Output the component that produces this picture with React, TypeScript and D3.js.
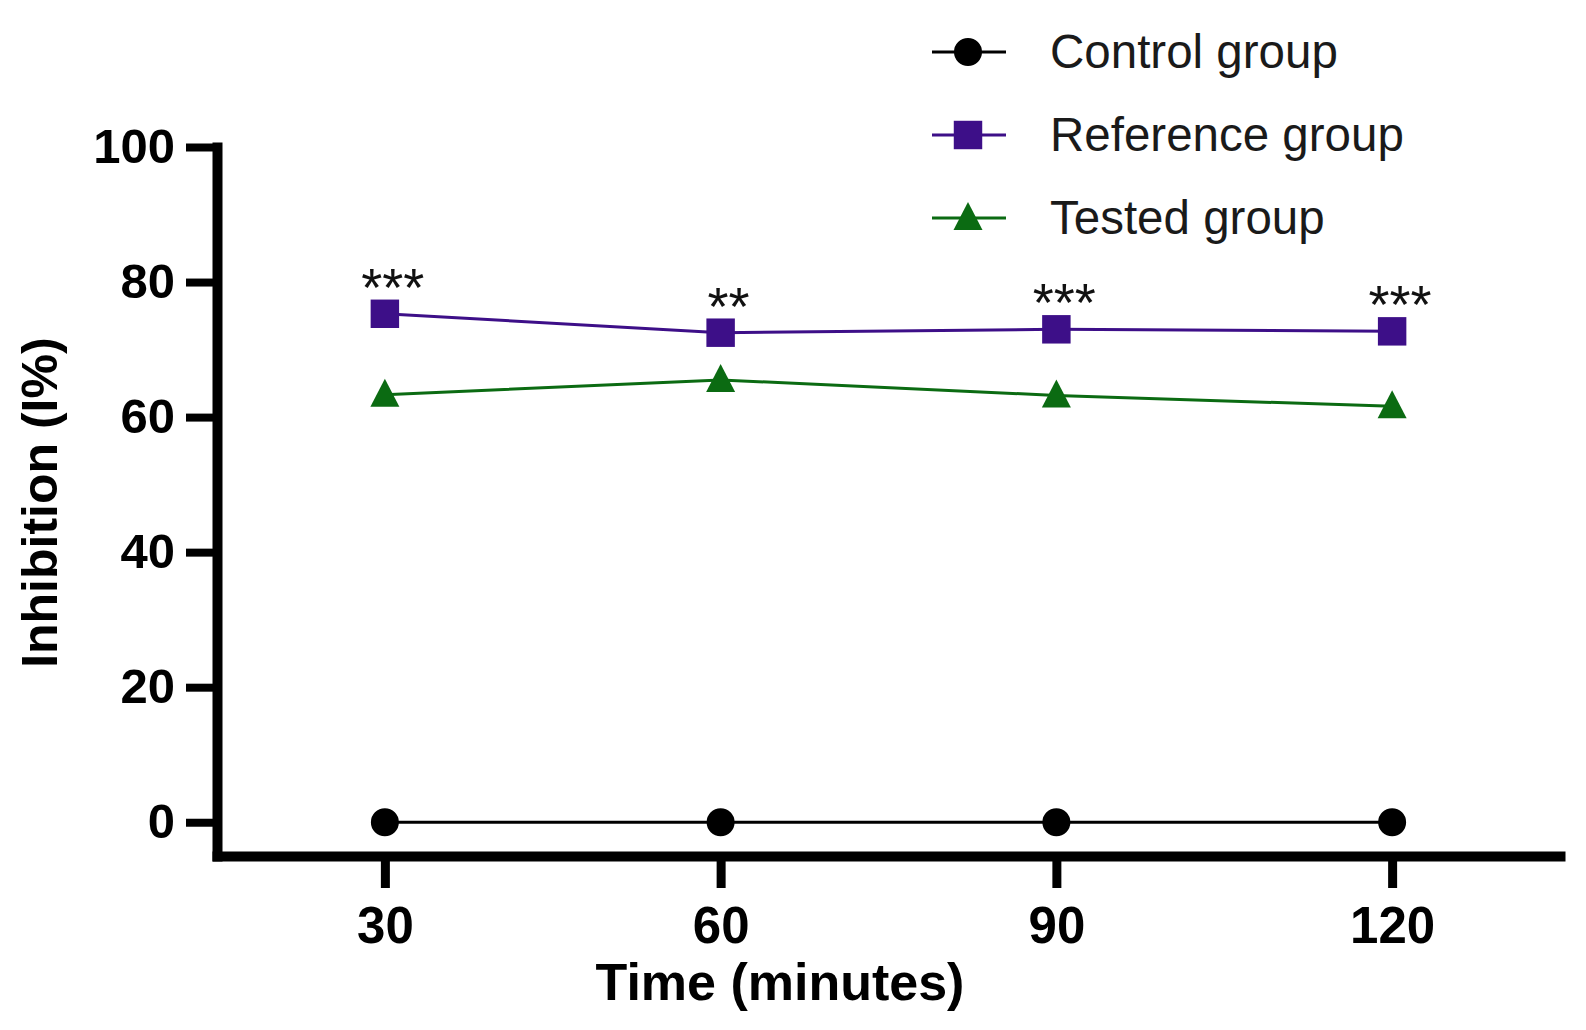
import React, { useEffect, useRef } from 'react';
import * as d3 from 'd3';

const times = [30, 60, 90, 120];
const controlValues = [0, 0, 0, 0];
const referenceValues = [75.3, 72.5, 73.0, 72.7];
const testedValues = [63.3, 65.5, 63.2, 61.6];
const significance = ['***', '**', '***', '***'];
const yTicks = [0, 20, 40, 60, 80, 100];
const seriesNames = ['Control group', 'Reference group', 'Tested group'];

const WIDTH = 1586;
const HEIGHT = 1030;
const FONT = '"Liberation Sans", Arial, Helvetica, sans-serif';

const colors = ['#000000', '#3d0f88', '#0b6b12'];

// marker paths, all centred on 0,0
const markerPath = (kind: string) => {
  if (kind === 'circle') return d3.symbol(d3.symbolCircle, 616)()!;
  if (kind === 'square') return d3.symbol(d3.symbolSquare, 810)()!;
  return 'M0,-16L14.5,12L-14.5,12Z';
};
const markerKinds = ['circle', 'square', 'triangle'];

const App: React.FC = () => {
  const ref = useRef<SVGSVGElement | null>(null);

  useEffect(() => {
    document.body.style.margin = '0';
    if (!ref.current) return;

    const svg = d3.select(ref.current).html('');
    svg.append('rect').attr('width', WIDTH).attr('height', HEIGHT).attr('fill', '#fff');

    const x = d3.scaleLinear().domain([15, 135]).range([217, 1560]);
    const y = d3.scaleLinear().domain([-5, 100]).range([856, 147]);

    // y axis
    const yAxis = svg
      .append('g')
      .attr('transform', `translate(${x(15)},0)`)
      .call(d3.axisLeft(y).tickValues(yTicks).tickSize(31).tickSizeOuter(0).tickPadding(11));
    yAxis.select('.domain').attr('stroke', '#000').attr('stroke-width', 10).attr('stroke-linecap', 'square');
    yAxis.selectAll('.tick line').attr('stroke', '#000').attr('stroke-width', 8);
    yAxis
      .selectAll('.tick text')
      .attr('fill', '#000')
      .attr('font-family', FONT)
      .attr('font-weight', 'bold')
      .attr('font-size', 49);

    // x axis
    const xAxis = svg
      .append('g')
      .attr('transform', `translate(0,${y(-5)})`)
      .call(d3.axisBottom(x).tickValues(times).tickSize(32).tickSizeOuter(0).tickPadding(19));
    xAxis.select('.domain').attr('stroke', '#000').attr('stroke-width', 10).attr('stroke-linecap', 'square');
    xAxis.selectAll('.tick line').attr('stroke', '#000').attr('stroke-width', 9);
    xAxis
      .selectAll('.tick text')
      .attr('fill', '#000')
      .attr('font-family', FONT)
      .attr('font-weight', 'bold')
      .attr('font-size', 51);

    // axis titles
    svg
      .append('text')
      .attr('transform', `translate(57,${(y(0) + y(100)) / 2 + 18}) rotate(-90)`)
      .attr('text-anchor', 'middle')
      .attr('font-family', FONT)
      .attr('font-weight', 'bold')
      .attr('font-size', 50)
      .text('Inhibition (I%)');

    svg
      .append('text')
      .attr('x', 780)
      .attr('y', 1000)
      .attr('text-anchor', 'middle')
      .attr('font-family', FONT)
      .attr('font-weight', 'bold')
      .attr('font-size', 52)
      .text('Time (minutes)');

    // series
    const allSeries = [controlValues, referenceValues, testedValues];
    const line = d3
      .line<number>()
      .x((_, i) => x(times[i]))
      .y((d) => y(d));

    allSeries.forEach((values, s) => {
      const g = svg.append('g');
      g.append('path')
        .attr('d', line(values)!)
        .attr('fill', 'none')
        .attr('stroke', s === 0 ? '#000' : colors[s])
        .attr('stroke-width', 3);
      g.selectAll('path.marker')
        .data(values)
        .enter()
        .append('path')
        .attr('class', 'marker')
        .attr('d', markerPath(markerKinds[s]))
        .attr('transform', (d, i) => `translate(${x(times[i])},${y(d)})`)
        .attr('fill', colors[s]);
    });

    // significance stars above the reference group
    svg
      .selectAll('text.sig')
      .data(significance)
      .enter()
      .append('text')
      .attr('class', 'sig')
      .attr('x', (_, i) => x(times[i]) + 8)
      .attr('y', (_, i) => y(referenceValues[i]) - 8)
      .attr('text-anchor', 'middle')
      .attr('font-family', FONT)
      .attr('font-size', 54)
      .attr('fill', '#111')
      .text((d) => d);

    // legend
    const legend = svg.append('g');
    const rowY = [52, 135, 218];
    seriesNames.forEach((name, s) => {
      const row = legend.append('g').attr('transform', `translate(968,${rowY[s]})`);
      row.append('line')
        .attr('x1', -36)
        .attr('x2', 38)
        .attr('stroke', s === 0 ? '#000' : colors[s])
        .attr('stroke-width', 3);
      row.append('path').attr('d', markerPath(markerKinds[s])).attr('fill', colors[s]);
      row.append('text')
        .attr('x', 82)
        .attr('y', 16)
        .attr('font-family', FONT)
        .attr('font-size', 47.5)
        .attr('fill', '#1a1a1a')
        .text(name);
    });
  }, []);

  return <svg ref={ref} width={WIDTH} height={HEIGHT} style={{ display: 'block' }}></svg>;
};

export default App;
